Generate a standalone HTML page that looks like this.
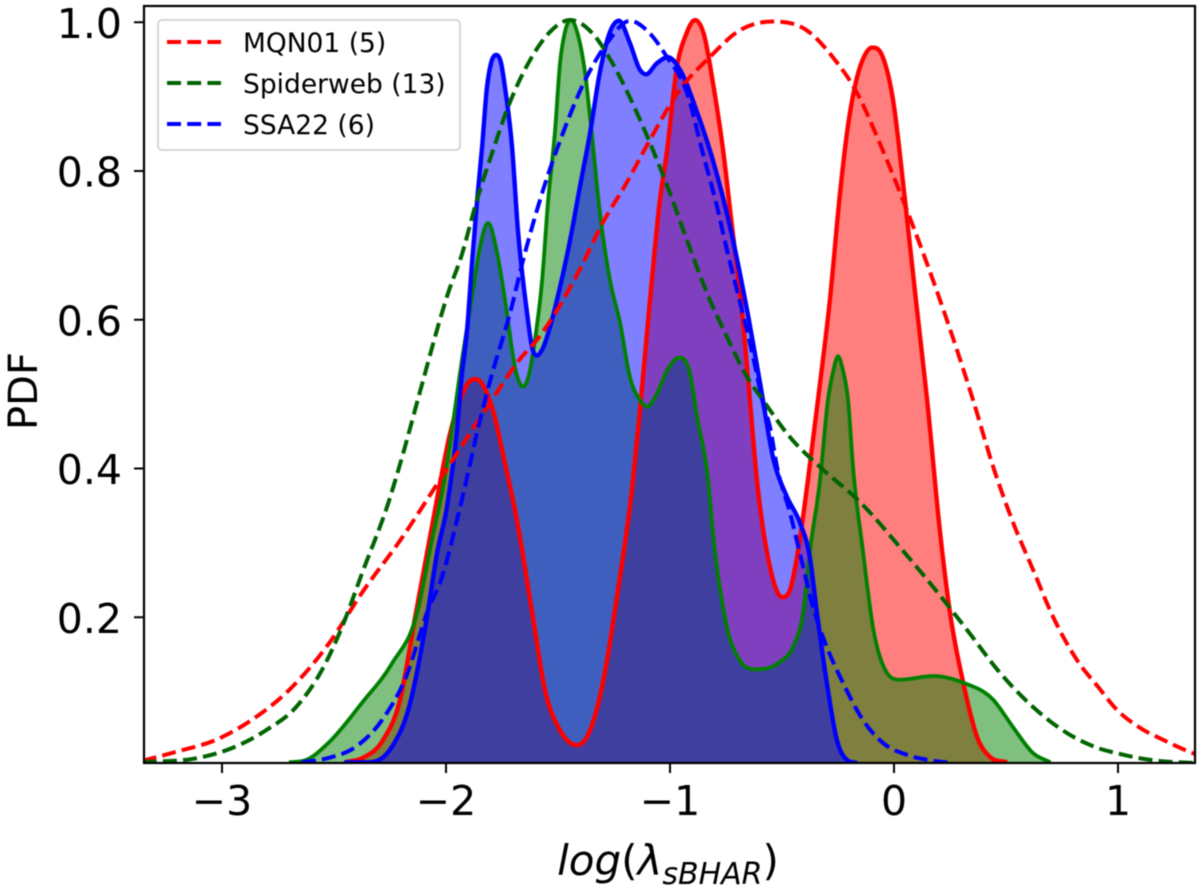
<!DOCTYPE html>
<html lang="en">
<head>
<meta charset="utf-8">
<title>PDF of log specific black hole accretion rate</title>
<style>
  html, body { margin: 0; padding: 0; background: #fff; }
  body { width: 1200px; height: 890px; overflow: hidden; }
  svg { display: block; font-family: "DejaVu Sans", "Liberation Sans", sans-serif; filter: blur(0.45px); }
</style>
</head>
<body>
<svg id="chart" xmlns="http://www.w3.org/2000/svg" width="1200" height="890" viewBox="0 0 1200 890">
  <defs>
    <clipPath id="plot-clip"><rect x="144" y="6" width="1051" height="757"></rect></clipPath>
  </defs>
  <rect x="0" y="0" width="1200" height="890" fill="#ffffff"></rect>
  <g id="marks" clip-path="url(#plot-clip)"></g>
  <g id="ticks"></g>
  <rect x="144" y="6" width="1051" height="757" fill="none" stroke="#000" stroke-width="2.2"></rect>
  <text transform="translate(37,391) rotate(-90)" text-anchor="middle" font-size="40" fill="#000">PDF</text>
  <text x="668" y="875" text-anchor="middle" font-size="42" fill="#000"><tspan font-style="italic">log</tspan>(<tspan font-style="italic">λ</tspan><tspan font-style="italic" font-size="30" dy="9">sBHAR</tspan><tspan dy="-9">)</tspan></text>
  <g>
    <rect x="158" y="20" width="302" height="130" rx="4" ry="4" fill="#ffffff" fill-opacity="0.85" stroke="#cccccc" stroke-width="1.6"></rect>
    <line x1="167" y1="42" x2="221" y2="42" stroke="#ff0000" stroke-width="4" stroke-dasharray="14 6.2"></line>
    <text x="243" y="52" font-size="26.5" fill="#000">MQN01 (5)</text>
    <line x1="167" y1="83" x2="221" y2="83" stroke="#006400" stroke-width="4" stroke-dasharray="14 6.2"></line>
    <text x="243" y="93" font-size="26.5" fill="#000">Spiderweb (13)</text>
    <line x1="167" y1="124" x2="221" y2="124" stroke="#0000ff" stroke-width="4" stroke-dasharray="14 6.2"></line>
    <text x="243" y="134" font-size="26.5" fill="#000">SSA22 (6)</text>
  </g>
</svg>
<script>
// Category names
const seriesNames = ['mqn01', 'spiderweb', 'ssa22'];

// Tick labels
const xTickValues = [-3, -2, -1, 0, 1];
const xTickLabels = ['\u22123', '\u22122', '\u22121', '0', '1'];
const yTickValues = [0.2, 0.4, 0.6, 0.8, 1.0];
const yTickLabels = ['0.2', '0.4', '0.6', '0.8', '1.0'];

// Solid KDE curves: log(lambda) and PDF
const mqn01KdeX = [-2.451,-2.371,-2.281,-2.205,-2.138,-2.080,-2.027,-1.982,-1.937,-1.902,-1.866,-1.839,-1.817,-1.790,-1.746,-1.683,-1.612,-1.558,-1.491,-1.415,-1.357,-1.312,-1.232,-1.165,-1.134,-1.089,-1.045,-1.013,-0.969,-0.929,-0.888,-0.848,-0.808,-0.763,-0.723,-0.679,-0.652,-0.612,-0.554,-0.500,-0.464,-0.433,-0.384,-0.330,-0.286,-0.241,-0.210,-0.165,-0.130,-0.098,-0.054,-0.004,0.049,0.098,0.148,0.206,0.250,0.309,0.371,0.429,0.505];
const mqn01KdeY = [0.005,0.011,0.035,0.089,0.200,0.294,0.380,0.447,0.492,0.515,0.520,0.514,0.501,0.478,0.420,0.330,0.200,0.102,0.048,0.028,0.048,0.095,0.237,0.385,0.479,0.627,0.761,0.828,0.940,0.983,1.003,0.983,0.918,0.828,0.725,0.613,0.523,0.385,0.268,0.227,0.237,0.281,0.385,0.515,0.627,0.770,0.851,0.926,0.956,0.966,0.956,0.895,0.761,0.626,0.492,0.313,0.206,0.112,0.039,0.012,0.005];

const spiderwebKdeX = [-2.701,-2.625,-2.522,-2.375,-2.241,-2.129,-2.063,-2.013,-1.924,-1.884,-1.848,-1.813,-1.768,-1.728,-1.692,-1.656,-1.625,-1.603,-1.571,-1.545,-1.513,-1.491,-1.469,-1.442,-1.411,-1.379,-1.348,-1.313,-1.268,-1.223,-1.179,-1.134,-1.103,-1.058,-1.013,-0.960,-0.911,-0.879,-0.830,-0.808,-0.746,-0.688,-0.621,-0.509,-0.451,-0.406,-0.375,-0.330,-0.295,-0.272,-0.250,-0.228,-0.205,-0.183,-0.139,-0.094,-0.031,0.027,0.174,0.309,0.443,0.532,0.622,0.698];
const spiderwebKdeY = [0.005,0.008,0.032,0.085,0.138,0.206,0.304,0.375,0.555,0.631,0.698,0.730,0.684,0.609,0.536,0.510,0.532,0.573,0.653,0.757,0.855,0.945,0.987,1.003,0.983,0.932,0.846,0.744,0.653,0.596,0.523,0.492,0.483,0.501,0.532,0.549,0.528,0.469,0.385,0.313,0.187,0.142,0.130,0.140,0.160,0.206,0.290,0.385,0.492,0.530,0.551,0.532,0.492,0.402,0.290,0.187,0.125,0.116,0.121,0.112,0.089,0.052,0.017,0.005];

const ssa22KdeX = [-2.455,-2.343,-2.241,-2.165,-2.085,-2.040,-1.996,-1.951,-1.929,-1.906,-1.884,-1.862,-1.839,-1.817,-1.799,-1.777,-1.754,-1.737,-1.705,-1.679,-1.638,-1.616,-1.594,-1.567,-1.536,-1.491,-1.446,-1.402,-1.357,-1.313,-1.268,-1.228,-1.179,-1.134,-1.107,-1.058,-1.009,-0.955,-0.879,-0.808,-0.732,-0.656,-0.598,-0.540,-0.478,-0.420,-0.376,-0.344,-0.300,-0.255,-0.210,-0.165];
const ssa22KdeY = [0.005,0.005,0.026,0.079,0.200,0.286,0.348,0.452,0.526,0.586,0.676,0.757,0.832,0.913,0.945,0.956,0.945,0.913,0.832,0.721,0.609,0.563,0.552,0.562,0.590,0.644,0.707,0.779,0.851,0.933,0.987,1.002,0.972,0.936,0.930,0.945,0.953,0.936,0.879,0.814,0.725,0.613,0.515,0.415,0.362,0.327,0.281,0.206,0.112,0.035,0.008,0.004];

// Dashed smooth curves: log(lambda) and PDF
const mqn01SmoothX = [-3.354,-3.193,-3.028,-2.867,-2.701,-2.522,-2.375,-2.196,-2.027,-1.804,-1.673,-1.594,-1.404,-1.301,-1.194,-1.091,-0.957,-0.823,-0.689,-0.541,-0.389,-0.273,-0.165,-0.063,0.049,0.206,0.353,0.443,0.532,0.622,0.711,0.818,0.912,0.997,1.100,1.203,1.337,1.346];
const mqn01SmoothY = [0.007,0.020,0.035,0.062,0.102,0.165,0.233,0.307,0.385,0.488,0.546,0.573,0.667,0.730,0.784,0.841,0.909,0.953,0.989,1.001,0.989,0.953,0.905,0.837,0.754,0.626,0.492,0.402,0.327,0.263,0.200,0.142,0.106,0.075,0.051,0.035,0.017,0.016];

const spiderwebSmoothX = [-3.354,-3.104,-2.956,-2.804,-2.670,-2.554,-2.464,-2.375,-2.254,-2.187,-2.120,-1.986,-1.933,-1.862,-1.790,-1.723,-1.625,-1.536,-1.446,-1.346,-1.257,-1.167,-1.076,-1.000,-0.924,-0.835,-0.746,-0.656,-0.585,-0.464,-0.330,-0.152,0.027,0.174,0.326,0.474,0.622,0.774,0.912,0.997,1.087,1.176,1.346];
const spiderwebSmoothY = [0.005,0.011,0.024,0.048,0.079,0.129,0.187,0.259,0.357,0.425,0.499,0.640,0.684,0.761,0.828,0.886,0.949,0.987,1.003,0.985,0.945,0.891,0.828,0.770,0.707,0.636,0.577,0.523,0.492,0.442,0.402,0.355,0.294,0.241,0.183,0.125,0.079,0.044,0.024,0.017,0.011,0.007,0.004];

const ssa22SmoothX = [-2.643,-2.522,-2.402,-2.285,-2.178,-2.075,-2.027,-1.937,-1.848,-1.790,-1.759,-1.714,-1.656,-1.567,-1.478,-1.379,-1.281,-1.179,-1.103,-1.013,-0.924,-0.857,-0.790,-0.746,-0.701,-0.665,-0.629,-0.585,-0.554,-0.522,-0.464,-0.420,-0.362,-0.300,-0.228,-0.139,-0.049,0.058,0.174,0.264];
const ssa22SmoothY = [0.005,0.011,0.026,0.062,0.120,0.214,0.246,0.348,0.465,0.532,0.563,0.609,0.680,0.774,0.851,0.922,0.972,1.002,0.989,0.953,0.905,0.828,0.752,0.694,0.640,0.596,0.550,0.488,0.456,0.402,0.340,0.286,0.214,0.160,0.112,0.062,0.031,0.015,0.007,0.004];

// Axis functions
function sx(v) { return 894 + v * 224; }
function sy(v) { return 766 - v * 743.75; }

// Smooth monotone path through a series
function smoothPath(xs, ys) {
  const px = xs.map(sx), py = ys.map(sy), n = px.length;
  const d = [], m = [];
  for (let i = 0; i < n - 1; i++) d.push((py[i + 1] - py[i]) / (px[i + 1] - px[i]));
  m.push(d[0]);
  for (let i = 1; i < n - 1; i++) {
    const h0 = px[i] - px[i - 1], h1 = px[i + 1] - px[i];
    const p = (h1 * d[i - 1] + h0 * d[i]) / (h0 + h1);
    const sgn = (Math.sign(d[i - 1]) + Math.sign(d[i])) / 2;
    m.push(sgn * Math.min(3 * Math.abs(d[i - 1]), 3 * Math.abs(d[i]), Math.abs(p)));
  }
  m.push(d[n - 2]);
  let s = 'M' + px[0].toFixed(2) + ' ' + py[0].toFixed(2);
  for (let i = 0; i < n - 1; i++) {
    const h = (px[i + 1] - px[i]) / 3;
    s += 'C' + (px[i] + h).toFixed(2) + ' ' + (py[i] + m[i] * h).toFixed(2) + ' ' +
      (px[i + 1] - h).toFixed(2) + ' ' + (py[i + 1] - m[i + 1] * h).toFixed(2) + ' ' +
      px[i + 1].toFixed(2) + ' ' + py[i + 1].toFixed(2);
  }
  return s;
}

const NS = 'http://www.w3.org/2000/svg';
const marks = document.getElementById('marks');
const ticks = document.getElementById('ticks');

const kdeX = [mqn01KdeX, spiderwebKdeX, ssa22KdeX];
const kdeY = [mqn01KdeY, spiderwebKdeY, ssa22KdeY];
const smoothX = [mqn01SmoothX, spiderwebSmoothX, ssa22SmoothX];
const smoothY = [mqn01SmoothY, spiderwebSmoothY, ssa22SmoothY];
const fillColors = ['#ff0000', '#008000', '#0000ff'];
const dashColors = ['#ff0000', '#006400', '#0000ff'];
const lineWidths = ['4.4', '3.8', '4.4'];

seriesNames.forEach(function (name, i) {
  const xs = kdeX[i];
  const area = document.createElementNS(NS, 'path');
  
  
  area.setAttribute('d', smoothPath(xs, kdeY[i]) + 'L' + sx(xs[xs.length - 1]).toFixed(2) + ' 770L' + sx(xs[0]).toFixed(2) + ' 770Z');
  area.setAttribute('fill', fillColors[i]);
  area.setAttribute('fill-opacity', '0.5');
  marks.appendChild(area);
});

seriesNames.forEach(function (name, i) {
  const stroke = document.createElementNS(NS, 'path');
  
  
  stroke.setAttribute('d', smoothPath(kdeX[i], kdeY[i]));
  stroke.setAttribute('fill', 'none');
  stroke.setAttribute('stroke', fillColors[i]);
  stroke.setAttribute('stroke-width', lineWidths[i]);
  stroke.setAttribute('stroke-linejoin', 'round');
  marks.appendChild(stroke);
});

seriesNames.forEach(function (name, i) {
  const dash = document.createElementNS(NS, 'path');
  
  
  dash.setAttribute('d', smoothPath(smoothX[i], smoothY[i]));
  dash.setAttribute('fill', 'none');
  dash.setAttribute('stroke', dashColors[i]);
  dash.setAttribute('stroke-width', '4');
  dash.setAttribute('stroke-dasharray', '14 6.2');
  marks.appendChild(dash);
});

xTickValues.forEach(function (v, i) {
  const t = document.createElementNS(NS, 'line');
  
  
  t.setAttribute('x1', sx(v));
  t.setAttribute('x2', sx(v));
  t.setAttribute('y1', 763);
  t.setAttribute('y2', 773);
  t.setAttribute('stroke', '#000');
  t.setAttribute('stroke-width', '2');
  ticks.appendChild(t);
  const l = document.createElementNS(NS, 'text');
  
  
  l.setAttribute('x', sx(v));
  l.setAttribute('y', 815);
  l.setAttribute('text-anchor', 'middle');
  l.setAttribute('font-size', '41');
  l.textContent = xTickLabels[i];
  ticks.appendChild(l);
});

yTickValues.forEach(function (v, i) {
  const t = document.createElementNS(NS, 'line');
  
  
  t.setAttribute('x1', 134);
  t.setAttribute('x2', 144);
  t.setAttribute('y1', sy(v));
  t.setAttribute('y2', sy(v));
  t.setAttribute('stroke', '#000');
  t.setAttribute('stroke-width', '2');
  ticks.appendChild(t);
  const l = document.createElementNS(NS, 'text');
  
  
  l.setAttribute('x', 122);
  l.setAttribute('y', sy(v) + 15.5);
  l.setAttribute('text-anchor', 'end');
  l.setAttribute('font-size', '41');
  l.textContent = yTickLabels[i];
  ticks.appendChild(l);
});
</script>
</body>
</html>
